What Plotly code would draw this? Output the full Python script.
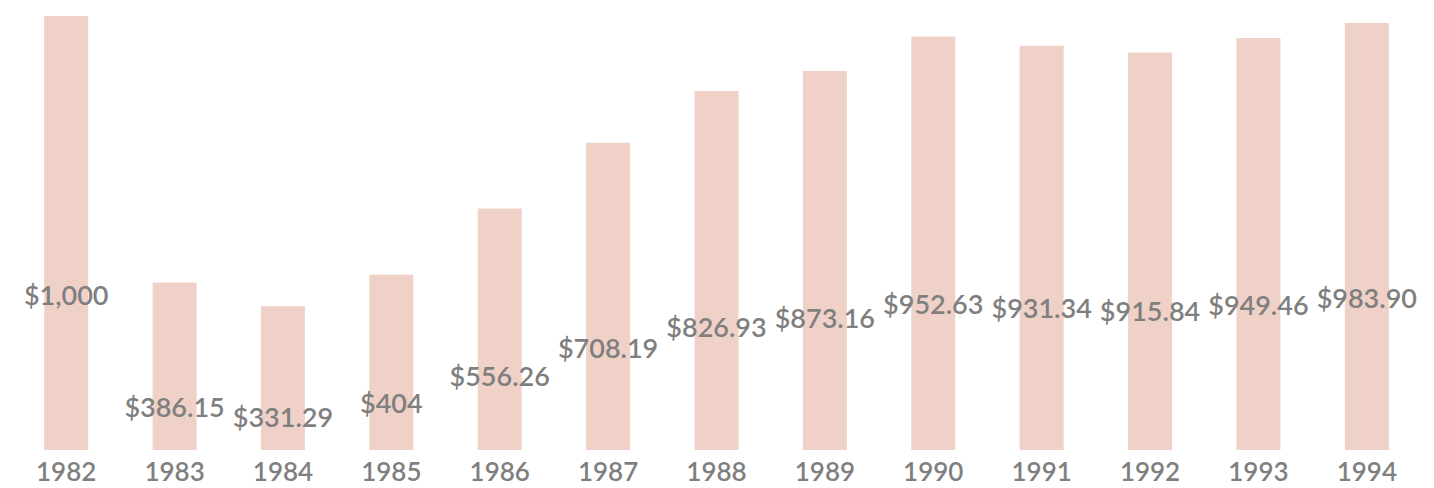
import plotly.graph_objects as go

years = ["1982", "1983", "1984", "1985", "1986", "1987", "1988", "1989", "1990", "1991", "1992", "1993", "1994"]
values = [1000, 386.15, 331.29, 404, 556.26, 708.19, 826.93, 873.16, 952.63, 931.34, 915.84, 949.46, 983.90]
labels = ["$1,000", "$386.15", "$331.29", "$404", "$556.26", "$708.19", "$826.93", "$873.16",
          "$952.63", "$931.34", "$915.84", "$949.46", "$983.90"]

BAR = "#f0d1c7"
GREY = "#7f7f7f"
FONT = "Lato"

fig = go.Figure()
fig.add_trace(go.Bar(x=years, y=values, marker=dict(color=BAR, line=dict(width=0)),
                     hoverinfo="skip", showlegend=False))
fig.add_trace(go.Scatter(x=years, y=values, mode="text", text=labels, yaxis="y2",
                         textposition="middle center", cliponaxis=False,
                         textfont=dict(family=FONT, size=27, color=GREY, weight=600),
                         hoverinfo="skip", showlegend=False))

fig.update_layout(
    width=1434, height=488,
    margin=dict(l=12, r=13, t=16, b=38, autoexpand=False),
    paper_bgcolor="white", plot_bgcolor="white",
    bargap=0.594,
    xaxis=dict(type="category", range=[-0.5, len(years) - 0.5], autorange=False,
               automargin=False, showgrid=False, zeroline=False, showline=False,
               ticks="", tickfont=dict(family=FONT, size=26, color=GREY, weight=600),
               ticklabelstandoff=4),
    yaxis=dict(range=[0, 1000], autorange=False, visible=False, showgrid=False,
               zeroline=False, automargin=False),
    yaxis2=dict(range=[164.5, 2559.5], autorange=False, overlaying="y", visible=False,
                showgrid=False, zeroline=False, automargin=False),
)

fig.write_html("out.html", config={"displayModeBar": False},
               post_script="document.body.style.margin='0';document.body.style.overflow='hidden';")
